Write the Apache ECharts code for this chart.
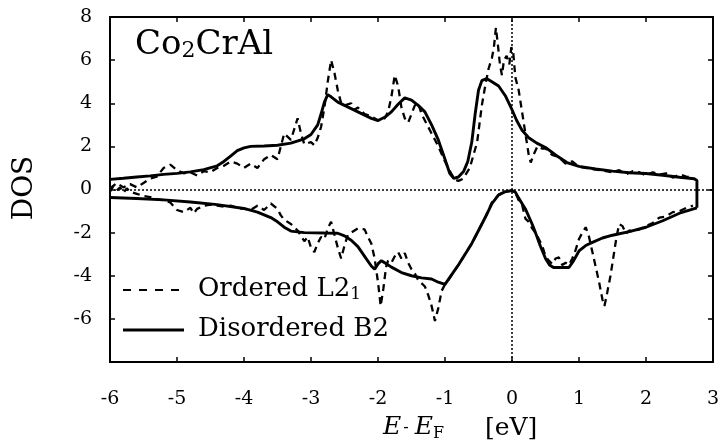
<!DOCTYPE html>
<html>
<head>
<meta charset="utf-8">
<script src="https://cdn.jsdelivr.net/npm/echarts@6/dist/echarts.min.js"></script>
<style>
  html, body { margin: 0; padding: 0; background: #fff; }
  #main { width: 718px; height: 446px; }
</style>
</head>
<body>
<div id="main"></div>
<script>
// DOS of Co2CrAl, [E - EF (eV), DOS]
var b2Up = [
  [-6.0,0.47],[-5.8,0.52],[-5.6,0.58],[-5.4,0.63],[-5.2,0.7],[-5.0,0.75],[-4.8,0.82],[-4.6,0.92],
  [-4.4,1.1],[-4.3,1.3],[-4.2,1.55],[-4.1,1.8],[-4.0,1.93],[-3.9,2.0],[-3.7,2.02],[-3.5,2.05],
  [-3.3,2.15],[-3.1,2.35],[-3.0,2.55],[-2.9,3.0],[-2.85,3.5],[-2.8,4.05],[-2.75,4.4],[-2.7,4.3],
  [-2.6,4.05],[-2.5,3.9],[-2.4,3.75],[-2.3,3.6],[-2.2,3.45],[-2.1,3.3],[-2.0,3.2],[-1.9,3.35],
  [-1.8,3.6],[-1.7,3.95],[-1.6,4.25],[-1.5,4.15],[-1.4,3.9],[-1.3,3.6],[-1.2,3.0],[-1.1,2.3],
  [-1.0,1.4],[-0.93,0.75],[-0.87,0.52],[-0.8,0.58],[-0.72,0.85],[-0.66,1.3],[-0.6,2.2],
  [-0.55,3.5],[-0.5,4.6],[-0.45,5.05],[-0.38,5.15],[-0.3,5.0],[-0.2,4.8],[-0.1,4.35],[0.0,3.7],
  [0.07,3.2],[0.15,2.75],[0.25,2.4],[0.37,2.15],[0.5,1.95],[0.65,1.6],[0.82,1.25],[1.0,1.07],
  [1.25,0.95],[1.5,0.85],[1.75,0.78],[2.0,0.74],[2.25,0.66],[2.5,0.57],[2.72,0.5],[2.76,0.42],
  [2.76,-0.85]
];
var b2Down = [
  [-6.0,-0.37],[-5.6,-0.42],[-5.2,-0.48],[-4.8,-0.58],[-4.4,-0.7],[-4.0,-0.88],[-3.8,-1.05],
  [-3.6,-1.3],[-3.5,-1.5],[-3.4,-1.75],[-3.3,-1.93],[-3.1,-2.0],[-2.8,-2.02],[-2.6,-2.03],
  [-2.5,-2.15],[-2.4,-2.35],[-2.3,-2.65],[-2.2,-3.1],[-2.1,-3.55],[-2.05,-3.7],[-2.0,-3.45],
  [-1.95,-3.3],[-1.9,-3.4],[-1.8,-3.6],[-1.65,-3.85],[-1.5,-4.0],[-1.35,-4.1],[-1.2,-4.15],
  [-1.1,-4.3],[-1.0,-4.4],[-0.9,-3.95],[-0.8,-3.5],[-0.7,-3.0],[-0.6,-2.5],[-0.5,-1.9],
  [-0.4,-1.3],[-0.3,-0.65],[-0.2,-0.25],[-0.1,-0.1],[0.0,-0.05],[0.05,-0.12],[0.1,-0.4],
  [0.2,-0.9],[0.3,-1.6],[0.35,-2.0],[0.42,-2.6],[0.5,-3.2],[0.56,-3.5],[0.62,-3.62],[0.85,-3.62],
  [0.92,-3.3],[1.0,-2.85],[1.1,-2.6],[1.2,-2.45],[1.35,-2.25],[1.5,-2.12],[1.75,-1.95],
  [2.0,-1.75],[2.25,-1.45],[2.5,-1.1],[2.76,-0.85]
];
var l21Up = [
  [-6.0,0.05],[-5.9,0.3],[-5.8,0.1],[-5.7,0.25],[-5.6,0.1],[-5.5,0.3],[-5.4,0.5],[-5.3,0.6],
  [-5.2,1.0],[-5.1,1.15],[-5.0,0.9],[-4.9,0.75],[-4.8,0.8],[-4.7,0.65],[-4.6,0.85],[-4.5,0.8],
  [-4.4,1.0],[-4.3,1.1],[-4.2,1.3],[-4.1,1.2],[-4.0,1.0],[-3.9,1.2],[-3.8,1.0],[-3.7,1.4],
  [-3.6,1.6],[-3.5,1.4],[-3.45,2.0],[-3.4,2.6],[-3.3,2.3],[-3.25,2.8],[-3.2,3.3],[-3.15,2.6],
  [-3.1,2.1],[-3.0,2.2],[-2.95,2.05],[-2.9,2.4],[-2.85,2.9],[-2.8,3.8],[-2.75,5.0],[-2.7,6.0],
  [-2.65,5.4],[-2.6,4.6],[-2.55,4.0],[-2.5,3.9],[-2.4,4.0],[-2.35,3.7],[-2.3,3.8],[-2.2,3.5],
  [-2.1,3.4],[-2.0,3.2],[-1.9,3.3],[-1.85,3.6],[-1.8,4.3],[-1.75,5.3],[-1.7,4.8],[-1.65,3.8],
  [-1.6,3.3],[-1.55,3.1],[-1.5,3.5],[-1.45,3.9],[-1.4,4.0],[-1.35,3.5],[-1.3,3.2],[-1.25,2.9],
  [-1.2,2.6],[-1.1,2.0],[-1.0,1.3],[-0.9,0.7],[-0.85,0.45],[-0.8,0.4],[-0.73,0.5],[-0.63,1.0],
  [-0.52,2.2],[-0.45,3.9],[-0.4,4.8],[-0.35,5.6],[-0.3,6.1],[-0.27,6.6],[-0.24,7.5],[-0.21,6.7],
  [-0.18,5.8],[-0.15,5.3],[-0.12,6.0],[-0.08,6.2],[-0.04,5.8],[-0.01,6.6],[0.02,6.3],[0.05,5.2],
  [0.1,4.6],[0.15,3.6],[0.2,2.6],[0.25,1.6],[0.28,1.25],[0.32,1.6],[0.38,2.0],[0.45,1.9],
  [0.5,1.9],[0.6,1.6],[0.7,1.5],[0.8,1.2],[0.9,1.3],[1.0,1.05],[1.1,1.0],[1.2,0.95],[1.3,0.9],
  [1.4,0.85],[1.5,0.8],[1.6,0.9],[1.7,0.7],[1.8,0.85],[1.9,0.8],[2.0,0.65],[2.1,0.8],[2.2,0.7],
  [2.3,0.75],[2.4,0.55],[2.5,0.7],[2.6,0.6],[2.7,0.55]
];
var l21Down = [
  [-6.0,-0.1],[-5.95,0.15],[-5.9,-0.05],[-5.85,0.1],[-5.8,-0.15],[-5.75,0.05],[-5.7,-0.1],
  [-5.6,-0.2],[-5.5,-0.3],[-5.4,-0.35],[-5.3,-0.45],[-5.2,-0.5],[-5.1,-0.6],[-5.0,-0.95],
  [-4.9,-1.05],[-4.8,-0.85],[-4.75,-1.1],[-4.7,-0.9],[-4.6,-0.75],[-4.5,-0.7],[-4.4,-0.75],
  [-4.3,-0.8],[-4.2,-0.75],[-4.1,-0.85],[-4.0,-0.9],[-3.9,-0.95],[-3.8,-0.75],[-3.7,-0.95],
  [-3.6,-0.65],[-3.5,-0.9],[-3.45,-1.2],[-3.4,-1.4],[-3.3,-1.6],[-3.2,-1.9],[-3.1,-2.4],
  [-3.05,-2.2],[-3.0,-2.7],[-2.95,-2.9],[-2.9,-2.5],[-2.85,-2.2],[-2.8,-2.3],[-2.75,-1.8],
  [-2.7,-1.5],[-2.65,-2.1],[-2.6,-2.7],[-2.55,-3.2],[-2.5,-2.6],[-2.45,-2.1],[-2.4,-2.0],
  [-2.3,-1.8],[-2.2,-1.85],[-2.15,-2.2],[-2.1,-2.5],[-2.05,-3.2],[-2.0,-4.3],[-1.96,-5.4],
  [-1.92,-4.6],[-1.88,-3.6],[-1.85,-3.3],[-1.8,-3.4],[-1.75,-3.1],[-1.7,-2.9],[-1.65,-3.2],
  [-1.6,-2.95],[-1.55,-3.4],[-1.5,-3.7],[-1.45,-3.9],[-1.4,-4.2],[-1.3,-4.5],[-1.25,-4.9],
  [-1.2,-5.4],[-1.15,-6.1],[-1.1,-5.5],[-1.05,-4.7],[-1.0,-4.4],[-0.95,-4.2],[-0.9,-3.95],
  [-0.8,-3.5],[-0.7,-3.0],[-0.6,-2.5],[-0.5,-1.9],[-0.4,-1.3],[-0.3,-0.6],[-0.2,-0.25],
  [-0.1,-0.1],[0.0,-0.05],[0.05,-0.15],[0.1,-0.5],[0.15,-0.7],[0.2,-1.35],[0.25,-1.5],[0.3,-1.8],
  [0.35,-2.0],[0.4,-2.3],[0.45,-2.6],[0.5,-3.1],[0.55,-3.3],[0.6,-3.45],[0.65,-3.2],[0.7,-3.15],
  [0.75,-3.5],[0.8,-3.4],[0.85,-3.5],[0.9,-3.2],[0.95,-2.8],[1.0,-2.3],[1.05,-2.0],[1.1,-1.75],
  [1.15,-2.2],[1.2,-2.9],[1.25,-3.6],[1.3,-4.3],[1.35,-5.1],[1.38,-5.4],[1.42,-4.8],[1.47,-4.0],
  [1.52,-3.0],[1.56,-2.2],[1.6,-1.6],[1.65,-1.7],[1.7,-2.05],[1.75,-1.9],[1.8,-1.95],[1.9,-1.85],
  [2.0,-1.7],[2.1,-1.55],[2.2,-1.3],[2.3,-1.25],[2.4,-1.05],[2.5,-1.0],[2.6,-0.85],[2.7,-0.75]
];

var serif = '"DejaVu Serif", "Liberation Serif", serif';
var chart = echarts.init(document.getElementById('main'));

var axisBase = {
  type: 'value',
  axisLine: { show: true, onZero: false, lineStyle: { color: '#000', width: 2 } },
  axisTick: { show: true, inside: true, length: 5, lineStyle: { color: '#000', width: 1.5 } },
  splitLine: { show: false }
};

var dashed = { color: '#000', width: 2.3, type: [7, 5] };
var solid = { color: '#000', width: 2.9 };

var option = {
  animation: false,
  backgroundColor: '#fff',
  grid: { left: 110, right: 5, top: 17, bottom: 84, outerBoundsMode: 'none' },
  xAxis: [
    Object.assign({}, axisBase, {
      min: -6, max: 3, interval: 1, position: 'bottom',
      axisLabel: { margin: 28, color: '#000', fontFamily: serif, fontSize: 19 }
    }),
    Object.assign({}, axisBase, {
      min: -6, max: 3, interval: 1, position: 'top',
      axisLabel: { show: false }
    })
  ],
  yAxis: [
    Object.assign({}, axisBase, {
      min: -8, max: 8, interval: 2, position: 'left',
      axisLabel: {
        margin: 18, color: '#000', fontFamily: serif, fontSize: 19,
        formatter: function (v) { return v === -8 ? '' : String(v); }
      }
    }),
    Object.assign({}, axisBase, {
      min: -8, max: 8, interval: 2, position: 'right',
      axisLabel: { show: false }
    })
  ],
  series: [
    {
      name: 'Ordered L21', type: 'line', data: l21Up, symbol: 'none',
      lineStyle: dashed, z: 3,
      markLine: {
        silent: true, symbol: 'none', label: { show: false },
        lineStyle: { color: '#000', width: 1.5, type: [2, 2] },
        data: [{ yAxis: 0 }, { xAxis: 0 }]
      }
    },
    { name: 'Ordered L21', type: 'line', data: l21Down, symbol: 'none', lineStyle: dashed, z: 3 },
    { name: 'Disordered B2', type: 'line', data: b2Up, symbol: 'none', lineStyle: solid, z: 4 },
    { name: 'Disordered B2', type: 'line', data: b2Down, symbol: 'none', lineStyle: solid, z: 4 }
  ],
  graphic: [
    {
      type: 'text', left: 135, top: 28,
      style: {
        text: '{a|Co}{s|2}{a|CrAl}',
        rich: {
          a: { fontFamily: serif, fontSize: 34, lineHeight: 34, fill: '#000' },
          s: { fontFamily: serif, fontSize: 22, lineHeight: 16, verticalAlign: 'bottom', fill: '#000' }
        }
      }
    },
    {
      type: 'text', x: 25, y: 188, rotation: Math.PI / 2,
      style: {
        text: 'DOS', fontFamily: serif, fontSize: 28, fill: '#000',
        textAlign: 'center', textVerticalAlign: 'middle'
      }
    },
    {
      type: 'text', left: 383, top: 415,
      style: {
        text: '{i|E}{h|-}{i|E}{s|F}',
        rich: {
          i: { fontFamily: serif, fontStyle: 'italic', fontSize: 25, lineHeight: 28, fill: '#000' },
          h: { fontFamily: serif, fontSize: 16, lineHeight: 28, fill: '#000', padding: [0, 6, 0, 2] },
          s: { fontFamily: serif, fontSize: 16, lineHeight: 18, verticalAlign: 'bottom', fill: '#000' }
        }
      }
    },
    {
      type: 'text', left: 485, top: 416,
      style: { text: '[eV]', fontFamily: serif, fontSize: 25, fill: '#000' }
    },
    {
      type: 'line', shape: { x1: 123, y1: 290, x2: 184, y2: 290 },
      style: { stroke: '#000', lineWidth: 2, lineDash: [8, 8] }
    },
    {
      type: 'text', left: 198, top: 276,
      style: {
        text: '{a|Ordered L2}{s|1}',
        rich: {
          a: { fontFamily: serif, fontSize: 26, lineHeight: 28, fill: '#000' },
          s: { fontFamily: serif, fontSize: 17, lineHeight: 16, verticalAlign: 'bottom', fill: '#000' }
        }
      }
    },
    {
      type: 'line', shape: { x1: 123, y1: 330, x2: 184, y2: 330 },
      style: { stroke: '#000', lineWidth: 3 }
    },
    {
      type: 'text', left: 198, top: 316,
      style: { text: 'Disordered B2', fontFamily: serif, fontSize: 26, fill: '#000' }
    }
  ]
};

chart.setOption(option);
</script>
</body>
</html>
